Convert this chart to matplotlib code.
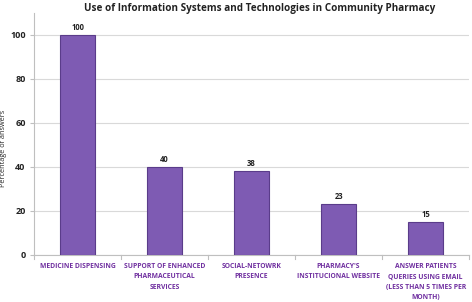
import matplotlib
matplotlib.use("Agg")
import matplotlib.pyplot as plt

categories = ["MEDICINE DISPENSING",
              "SUPPORT OF ENHANCED\nPHARMACEUTICAL\nSERVICES",
              "SOCIAL-NETOWRK\nPRESENCE",
              "PHARMACY'S\nINSTITUCIONAL WEBSITE",
              "ANSWER PATIENTS\nQUERIES USING EMAIL\n(LESS THAN 5 TIMES PER\nMONTH)"]
values = [100, 40, 38, 23, 15]
yticks = [0, 20, 40, 60, 80, 100]

plt.rcParams['font.family'] = ['Open Sans', 'DejaVu Sans']

fig = plt.figure(figsize=(4.72, 3.02), dpi=100)
ax = fig.add_axes([0.072, 0.156, 0.922, 0.801])

x = list(range(len(categories)))
ax.bar(x, values, width=0.4, color='#7E5BB3', edgecolor='#5A3C8A', linewidth=0.8, zorder=3)
for xi, v in zip(x, values):
    ax.text(xi, v + 1.5, str(v), ha='center', va='bottom', fontsize=5.5, fontweight='bold', color='#222222')

ax.set_xlim(-0.5, len(categories) - 0.5)
ax.set_ylim(0, 110)
ax.set_yticks(yticks)
ax.set_yticklabels([str(t) for t in yticks], fontsize=6.5, fontweight='bold', color='#222222')
ax.yaxis.grid(True, color='#D9D9D9', linewidth=0.8, zorder=0)
ax.set_xticks(x)
ax.set_xticklabels(categories, fontsize=4.9, fontweight='bold', color='#7030A0', linespacing=1.65)
ax.tick_params(axis='x', length=0, pad=6)
ax.tick_params(axis='y', length=3, color='#BFBFBF', pad=3)
for b in [i + 0.5 for i in range(-1, len(categories))]:
    ax.plot([b, b], [0, -2], color='#BFBFBF', lw=0.8, clip_on=False)

for s in ['top', 'right']:
    ax.spines[s].set_visible(False)
ax.spines['left'].set_color('#BFBFBF')
ax.spines['bottom'].set_color('#BFBFBF')

ax.set_ylabel("Percentage of answers", fontsize=5.2, color='#222222')
ax.yaxis.set_label_coords(-0.062, 0.44)
fig.text(0.551, 0.972, "Use of Information Systems and Technologies in Community Pharmacy",
         ha='center', va='center', fontsize=7.1, fontweight='bold', color='#222222')

fig.savefig("out.png", dpi=100)
